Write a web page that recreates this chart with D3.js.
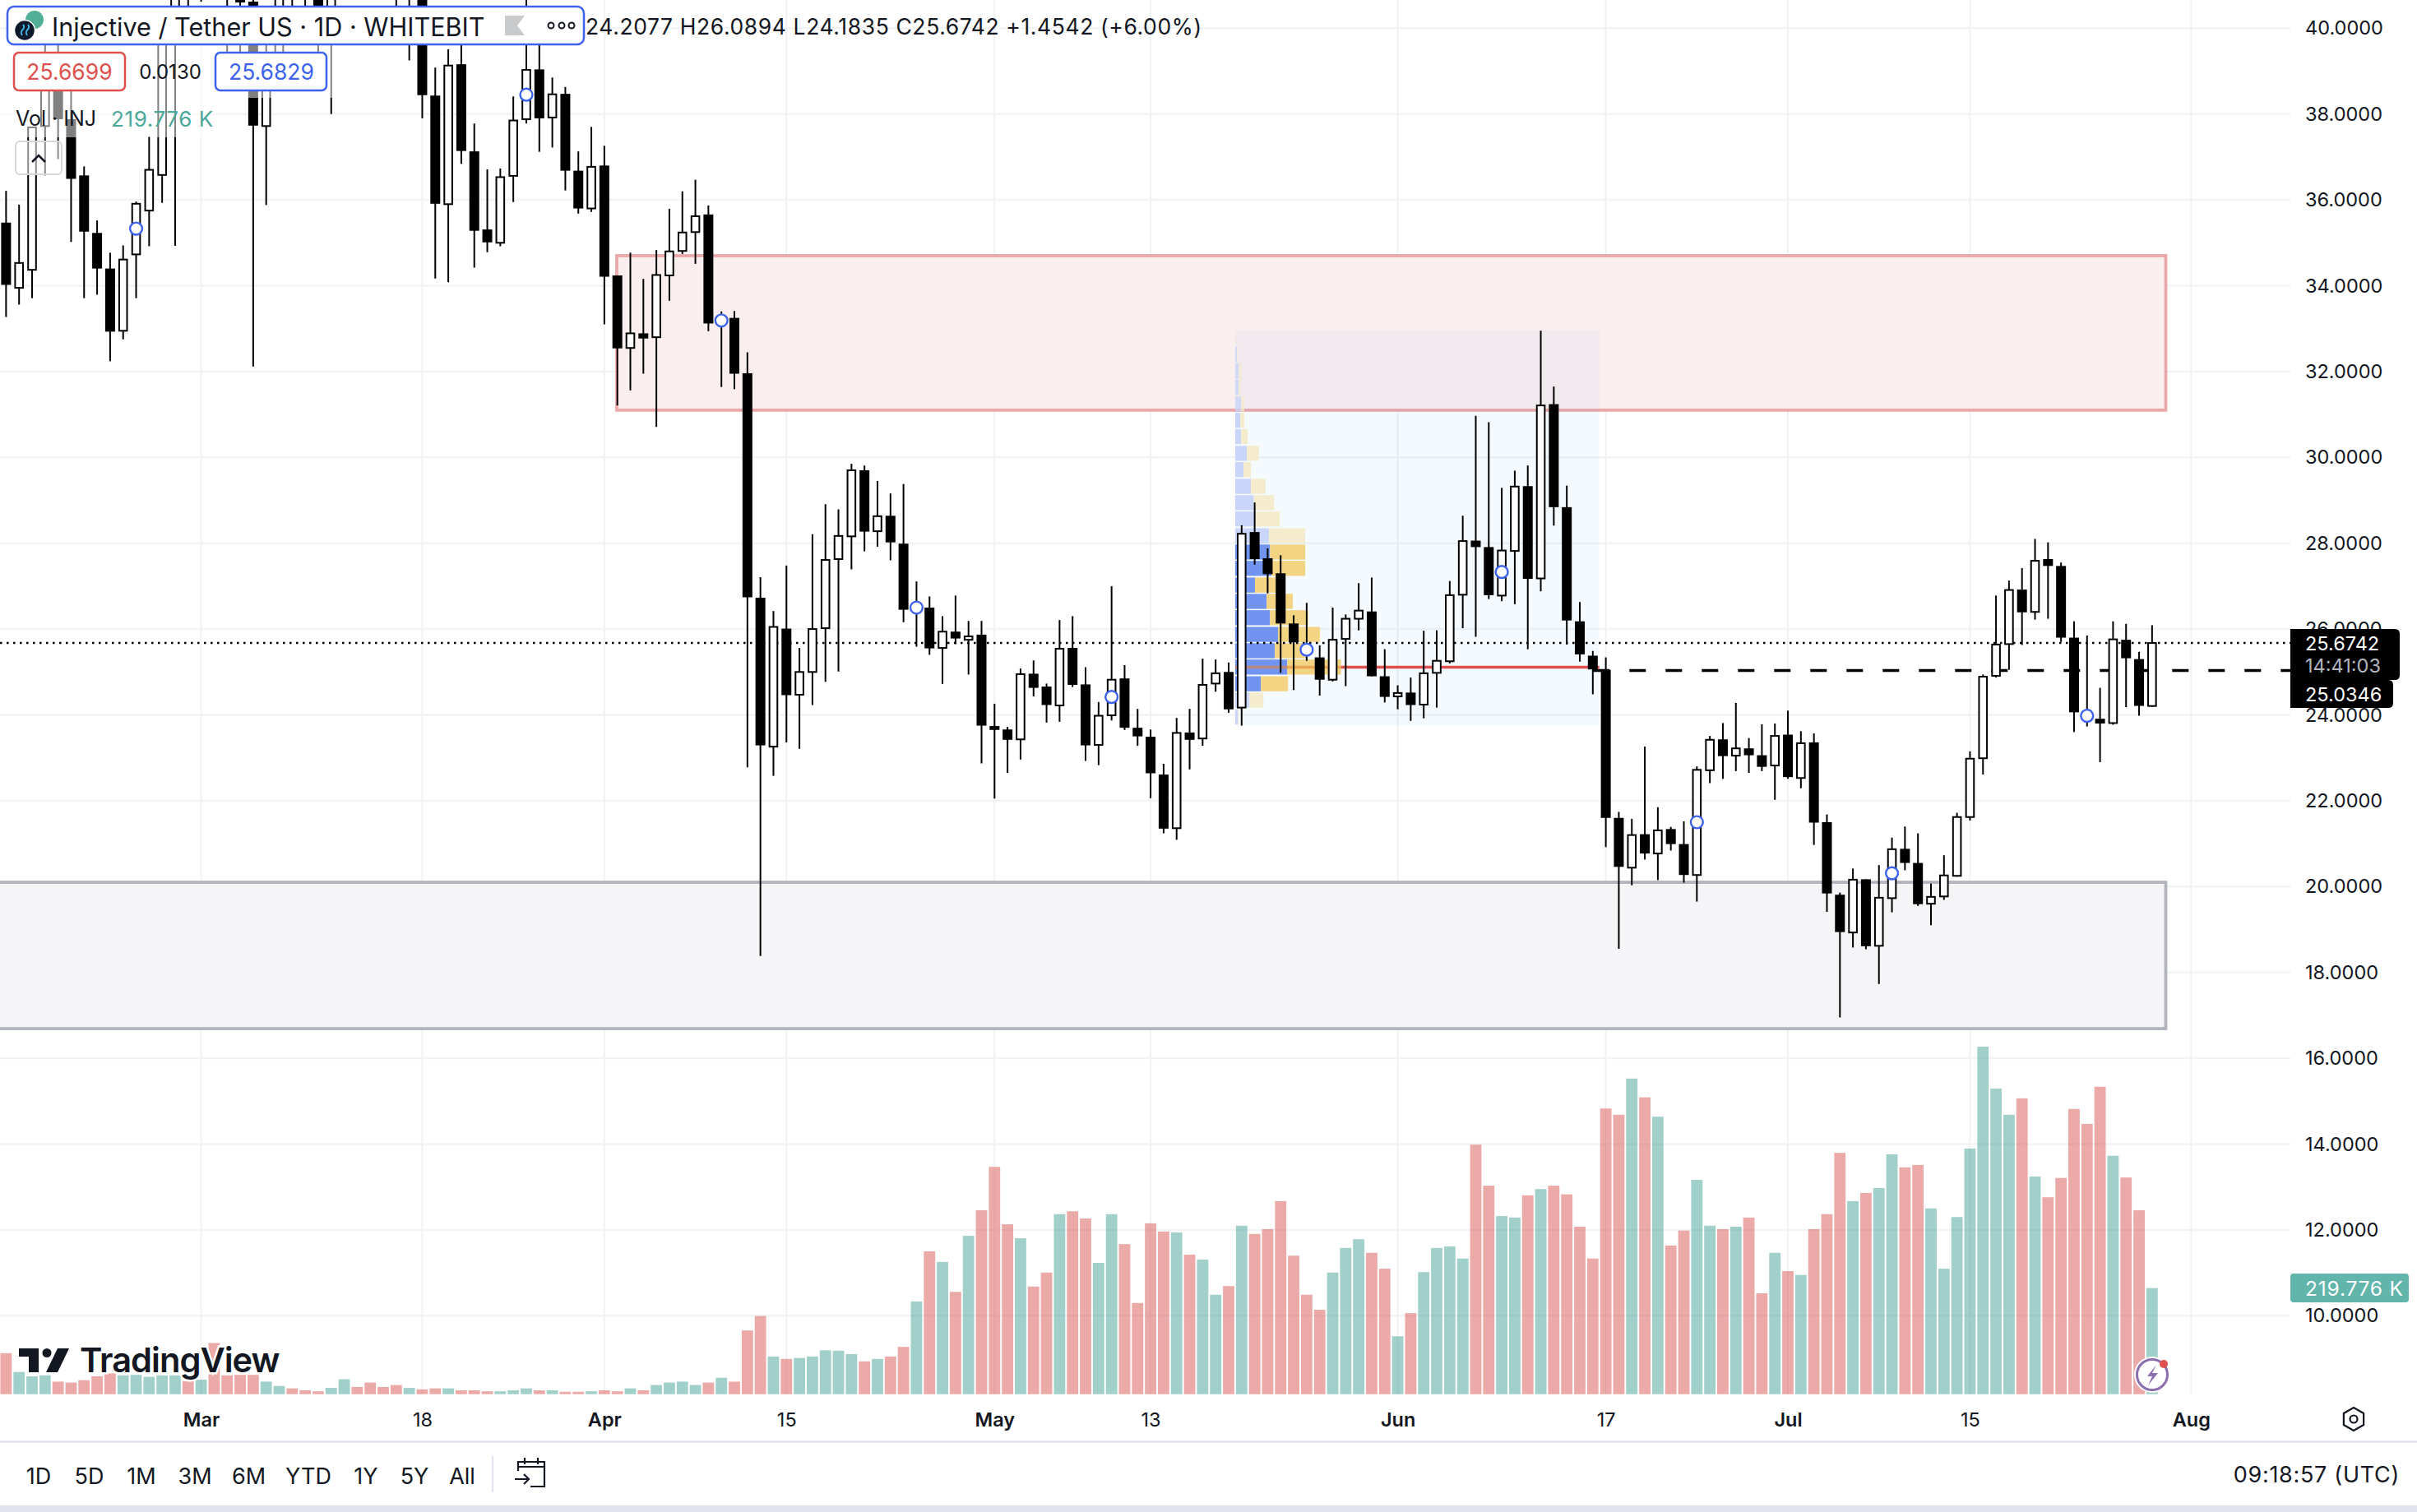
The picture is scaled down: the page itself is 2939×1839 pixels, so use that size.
<!DOCTYPE html>
<html><head><meta charset="utf-8">
<script src="https://cdnjs.cloudflare.com/ajax/libs/d3/7.8.5/d3.min.js"></script>
<style>html,body{margin:0;padding:0;background:#fff}svg{display:block}text{font-family:Inter,"Liberation Sans",sans-serif;fill:#131722}</style>
</head><body><svg id="c" width="2939" height="1839"></svg>
<script>
// day numbers count from 1 March; first candle is day -15
const firstDay=-15;
const open=[35.47,33.95,34.37,37.72,38.74,37.88,36.57,35.23,34.40,32.95,
34.73,35.75,36.58,40.02,42,42,45,42,41,40.62,
37.72,38.74,42,43,42,40.0,42,43,43,42,
43,42,41,38.43,35.9,39.16,37.13,35.31,35.0,36.56,
37.88,39.04,37.92,38.47,36.68,35.8,36.8,34.24,32.55,32.89,
32.8,34.24,34.81,35.25,35.66,33.15,33.25,31.96,26.73,23.26,
26.01,24.47,25.0,26.02,27.63,28.16,29.7,28.28,28.64,27.99,
26.42,26.5,25.56,25.94,25.75,25.87,23.74,23.66,23.43,24.96,
24.66,24.22,25.56,24.71,23.3,23.99,24.85,23.7,23.49,22.61,
21.36,23.59,23.45,24.73,25.0,24.17,28.26,27.65,27.3,26.13,
25.6,25.34,24.82,25.77,26.24,26.41,24.9,24.43,24.52,24.24,
24.98,25.25,26.8,28.06,27.91,26.78,27.82,29.33,27.18,31.24,
28.84,26.18,25.38,25.05,21.6,20.44,21.22,20.77,21.34,20.99,
20.27,22.71,23.43,23.05,23.22,23.06,22.82,23.54,22.53,23.36,
21.5,19.81,18.93,20.17,18.62,19.73,20.88,20.55,19.6,19.77,
20.25,21.62,22.99,24.91,25.65,26.92,26.4,27.63,27.47,25.8,
24.06,23.91,23.81,25.75,25.3,24.2077];
const close=[34.02,34.53,37.69,38.74,37.88,36.49,35.26,34.40,32.93,34.61,
35.91,36.70,40.0,41,41,43,44,41,40.6,37.73,
38.74,41,41,42,40.2,41,43,42,42,41,
42,43,38.44,35.91,39.13,37.14,35.28,35.01,36.53,37.85,
39.03,37.9,38.46,36.68,35.8,36.77,34.21,32.54,32.89,32.77,
34.25,34.8,35.24,35.62,33.12,33.25,31.95,26.74,23.29,26.05,
24.46,25.0,26.0,27.61,28.17,29.7,28.27,28.63,28.02,26.45,
26.59,25.55,25.94,25.78,25.83,23.75,23.65,23.42,24.95,24.63,
24.23,25.54,24.7,23.29,23.98,24.82,23.7,23.5,22.64,21.35,
23.58,23.42,24.7,24.97,24.13,28.22,27.63,27.28,26.13,25.69,
25.42,24.82,25.75,26.24,26.43,24.9,24.42,24.51,24.23,24.97,
25.26,26.79,28.05,27.91,26.79,27.83,29.32,27.17,31.21,28.84,
26.2,25.41,25.06,21.6,20.46,21.2,20.77,21.31,20.99,20.27,
22.72,23.42,23.04,23.22,23.06,22.79,23.51,22.55,23.34,21.49,
19.84,18.94,20.16,18.61,19.74,20.87,20.55,19.59,19.76,20.26,
21.62,22.98,24.89,25.64,26.91,26.39,27.59,27.47,25.8,24.06,
23.92,23.8,25.76,25.32,24.21,25.6742];
const high=[36.21,35.89,37.7,40.27,40.27,38.55,36.78,35.52,34.77,34.94,
35.96,37.48,40.2,41.2,43,44,46,43,41.5,41,
40,41.5,43,43,43,42,44,44,44,43,
44,44,41.5,39.08,39.51,40.0,37.78,36.71,36.73,38.41,
41,40.0,38.85,38.63,37.13,37.7,37.26,34.24,34.77,34.16,
34.83,35.79,36.2,36.47,35.87,33.4,33.41,32.45,27.21,26.42,
27.48,25.56,28.21,28.91,28.79,29.85,29.81,29.45,29.16,29.38,
27.11,26.76,26.3,26.78,26.19,26.19,24.26,23.72,25.08,25.27,
24.73,26.21,26.3,25.11,24.3,27.0,25.16,24.14,23.66,22.86,
23.93,24.14,25.31,25.29,25.22,28.42,28.95,27.88,27.72,26.32,
26.61,25.62,26.5,26.34,27.07,27.2,25.53,24.69,24.87,25.96,
25.97,27.12,28.64,30.97,30.82,29.29,29.69,29.81,32.95,31.65,
29.34,26.63,25.49,25.34,21.74,21.58,23.26,21.85,21.39,21.52,
22.8,23.51,23.81,24.28,23.46,23.78,23.8,24.1,23.62,23.57,
21.68,19.86,20.42,20.17,20.5,21.14,21.4,21.24,20.07,20.73,
21.72,23.15,24.94,26.78,27.13,27.42,28.1,28.02,27.55,26.18,
25.85,24.63,26.18,26.12,25.47,26.0894];
const low=[33.27,33.56,33.71,36.57,36.95,35.02,33.71,33.79,32.24,32.75,
33.71,34.92,35.93,34.93,40.0,40.62,41,38.7,38.74,32.12,
35.88,38.74,40,40.2,38.74,38.0,41,41,41,40.9,
40.0,39.25,37.9,34.17,34.08,36.84,34.42,34.78,34.92,35.95,
37.78,37.12,37.22,36.22,35.68,35.72,33.1,31.21,31.56,31.95,
30.71,33.65,34.74,34.51,32.94,31.64,31.59,22.78,18.38,22.58,
23.36,23.21,24.23,24.77,25.01,27.39,27.81,27.92,27.6,26.16,
25.59,25.4,24.72,25.65,24.94,22.87,22.05,22.65,22.96,24.43,
23.82,23.84,24.65,22.93,22.83,23.87,23.65,23.28,22.06,21.24,
21.09,22.73,23.28,24.54,24.05,23.75,27.5,26.83,24.98,24.58,
25.26,24.45,24.78,24.67,25.97,24.9,24.29,24.13,23.86,23.92,
24.17,25.2,26.02,25.82,26.7,26.65,26.58,25.53,26.88,28.41,
25.64,25.24,24.48,20.92,18.55,20.03,20.63,20.15,20.84,20.09,
19.65,22.41,22.51,22.69,22.65,22.69,22.02,22.51,22.29,20.97,
19.41,16.95,18.58,18.54,17.73,19.4,20.38,19.55,19.1,19.69,
20.23,21.54,22.61,24.87,25.05,25.63,26.22,26.24,25.7,23.6,
23.73,22.9,23.77,24.18,23.98,24.1835];
const volume=[85,46,37,39,26,24,29,37,43,39,40,36,39,39,27,30,106,
39,40,40,26,17,12,8,6,13,31,15,24,15,19,13,10,12,12,8,8,6,6,8,12,8,8,5,5,6,8,6,12,8,19,24,26,19,24,34,26,132,162,78,73,75,78,
91,90,83,68,73,78,98,192,296,274,212,328,381,471,352,323,223,252,373,379,364,272,373,311,189,354,337,335,289,279,206,224,349,332,342,400,287,206,175,252,303,321,293,260,120,168,253,303,306,281,
517,432,369,366,412,425,432,414,347,281,592,579,654,615,575,308,339,444,349,342,347,366,209,293,255,247,342,373,500,400,417,427,497,470,475,385,260,367,509,720,633,579,613,451,408,448,591,560,637,494,449,381,219.776];
const priceTicks=[40,38,36,34,32,30,28,26,24,22,20,18,16,14,12,10];
const timeTickDays=[0,17,31,45,61,73,92,108,122,136,153];
const timeTickLabels=["Mar","18","Apr","15","May","13","Jun","17","Jul","15","Aug"];
const rangeLabels=["1D","5D","1M","3M","6M","YTD","1Y","5Y","All"];
const markerDays=[-5,25,40,55,70,85,100,115,130,145];
const markerPrices=[35.33,38.45,33.19,26.5,24.42,25.52,27.33,21.5,20.31,23.98];
// volume profile rows (top price of each row, up and down volume)
const vpRowTop=[32.57,32.19,31.81,31.42,31.04,30.66,30.27,29.89,29.5,29.12,28.74,28.35,27.97,27.59,27.2,26.82,26.44,26.05,25.67,25.29,24.9,24.52,24.13];
const vpUp=[5,10,10,16,14,16,32,23,43,51,56,92,95,99,54,86,95,117,108,142,70,39,8];
const vpDown=[2,7,5,9,11,18,33,20,40,55,65,99,96,92,58,71,104,114,86,147,74,38,2];
const vpValueArea=[12,20];
const redZone=[34.70,31.10], greyZone=[20.10,16.69];
const vpRange=[32.96,23.75], vpDays=[79.5,107.5], pocPrice=25.11;
const lastPrice=25.6742, dashPrice=25.0346;

const svg=d3.select("#c");
const W=2939,paneR=2785,baseY=1695.7;
const x=d3.scaleLinear().domain([0,153]).range([244.6,2664.3]);
const y=d3.scaleLinear().domain([28,16]).range([660.7,1287.1]);
const vY=d3.scaleLinear().domain([0,1000]).range([baseY,baseY-587]);
const vpW=d3.scaleLinear().domain([0,100]).range([0,44.6]);
const candles=open.map((o,i)=>({day:firstDay+i,o,c:close[i],h:high[i],l:low[i],v:volume[i],up:close[i]>=o}));

// grid
const grid=svg.append("g");
grid.selectAll(".h").data(priceTicks).join("line").attr("x1",0).attr("x2",paneR).attr("y1",y).attr("y2",y).attr("stroke","#f2f3f5").attr("stroke-width",2.5);
grid.selectAll(".v").data(timeTickDays).join("line").attr("x1",x).attr("x2",x).attr("y1",0).attr("y2",baseY).attr("stroke","#f0f1f3").attr("stroke-width",2);

// zones
const zr=2633.5;
svg.append("rect").attr("x",750).attr("y",y(redZone[0])).attr("width",zr-750).attr("height",y(redZone[1])-y(redZone[0])).attr("fill","#fbeeee").attr("stroke","#eba8a8").attr("stroke-width",3.8);
svg.append("rect").attr("x",-10).attr("y",y(greyZone[0])).attr("width",zr+10).attr("height",y(greyZone[1])-y(greyZone[0])).attr("fill","#f5f5f8").attr("stroke","#b2b5be").attr("stroke-width",3.8);

// volume
svg.append("g").selectAll("rect").data(candles).join("rect")
 .attr("x",d=>x(d.day)-6.9).attr("width",13.8).attr("y",d=>vY(d.v)).attr("height",d=>baseY-vY(d.v))
 .attr("fill",d=>d.up?"rgb(67,160,150)":"rgb(215,85,81)").attr("fill-opacity",.5);

// volume profile
const vpX=x(vpDays[0]);
svg.append("rect").attr("x",vpX).attr("y",y(vpRange[0])).attr("width",x(vpDays[1])-vpX).attr("height",y(vpRange[1])-y(vpRange[0])).attr("fill","rgb(41,150,243)").attr("fill-opacity",.05);
svg.append("line").attr("x1",vpX).attr("x2",x(vpDays[1])).attr("y1",y(pocPrice)).attr("y2",y(pocPrice)).attr("stroke","#de5050").attr("stroke-width",3.6);
const inVA=i=>i>=vpValueArea[0]&&i<=vpValueArea[1];
const rows=svg.append("g").selectAll("g").data(vpRowTop).join("g");
rows.append("rect").attr("x",vpX).attr("y",d=>y(d)).attr("height",18.3).attr("width",(d,i)=>vpW(vpUp[i])).attr("fill",(d,i)=>inVA(i)?"#6a8ef0":"#c6d4fa").attr("fill-opacity",(d,i)=>(i<4?.75:.95));
rows.append("rect").attr("x",(d,i)=>vpX+vpW(vpUp[i])).attr("y",d=>y(d)).attr("height",18.3).attr("width",(d,i)=>vpW(vpDown[i])).attr("fill",(d,i)=>inVA(i)?"#f2d27c":"#f3ebc9").attr("fill-opacity",(d,i)=>(i<4?.75:.95));
rows.filter((d,i)=>i===19).append("line").attr("x1",vpX).attr("x2",vpX+vpW(vpUp[19]+vpDown[19])).attr("y1",y(pocPrice)).attr("y2",y(pocPrice)).attr("stroke","#e58a3c").attr("stroke-width",3.6).attr("stroke-opacity",.6);

// price lines
svg.append("line").attr("x1",0).attr("x2",paneR).attr("y1",y(lastPrice)).attr("y2",y(lastPrice)).attr("stroke","#000").attr("stroke-width",2.5).attr("stroke-dasharray","2.5 5.5");
svg.append("line").attr("x1",x(107.03)).attr("x2",paneR).attr("y1",y(dashPrice)).attr("y2",y(dashPrice)).attr("stroke","#000").attr("stroke-width",3.6).attr("stroke-dasharray","20 24");

// candles
const cg=svg.append("g").selectAll("g").data(candles).join("g");
cg.append("line").attr("x1",d=>x(d.day)).attr("x2",d=>x(d.day)).attr("y1",d=>y(d.h)).attr("y2",d=>y(d.l)).attr("stroke","#000").attr("stroke-width",2);
cg.append("rect")
 .attr("x",d=>x(d.day)-(d.up?4.8:6)).attr("width",d=>d.up?9.6:12)
 .attr("y",d=>y(Math.max(d.o,d.c))).attr("height",d=>Math.max(Math.abs(y(d.o)-y(d.c)),1.5))
 .attr("fill",d=>d.up?"#fff":"#000").attr("stroke",d=>d.up?"#000":"none").attr("stroke-width",2);

// bar markers
svg.append("g").selectAll("circle").data(markerDays).join("circle").attr("cx",d=>x(d)).attr("cy",(d,i)=>y(markerPrices[i])).attr("r",7.4).attr("fill","#fff").attr("stroke","#3d62ee").attr("stroke-width",2.4);

// price axis
const yAxis=svg.append("g").attr("transform",`translate(${paneR},0)`).call(d3.axisRight(y).tickValues(priceTicks).tickFormat(d3.format(".4f")).tickSize(0).tickPadding(18));
yAxis.select(".domain").remove();
yAxis.selectAll("text").attr("font-size",23.5).style("font-family","Inter").style("fill","#131722");

// time axis
const xAxis=svg.append("g").attr("transform",`translate(0,${baseY})`).call(d3.axisBottom(x).tickValues(timeTickDays).tickFormat(d=>timeTickLabels[timeTickDays.indexOf(d)]).tickSize(0).tickPadding(23));
xAxis.select(".domain").remove();
xAxis.selectAll("text").attr("font-size",23.5).style("font-family","Inter").style("fill","#131722").attr("font-weight",d=>isNaN(+timeTickLabels[timeTickDays.indexOf(d)])?600:400);

// price labels
function tag(x0,y0,w,h,fill,r){svg.append("path").attr("d",`M${x0},${y0}H${x0+w-r}Q${x0+w},${y0} ${x0+w},${y0+r}V${y0+h-r}Q${x0+w},${y0+h} ${x0+w-r},${y0+h}H${x0}Z`).attr("fill",fill);}
function txt(s,px,py,fs,col,anchor,weight,ls){return svg.append("text").text(s).attr("x",px).attr("y",py).attr("font-size",fs).attr("dominant-baseline","central").attr("text-anchor",anchor||"start").attr("font-weight",weight||400).attr("letter-spacing",ls||0).style("fill",col||"#131722");}
tag(paneR,765,133,62,"#000",6);
tag(paneR,827,125,34,"#000",6);
txt(d3.format(".4f")(lastPrice),2803,782,23.5,"#fff");
txt("14:41:03",2803,809,23.5,"#b2b5be");
txt(d3.format(".4f")(dashPrice),2803,844,23.5,"#fff");
svg.append("rect").attr("x",paneR).attr("y",1549).attr("width",144).attr("height",35).attr("rx",4).attr("fill","#62b5ab");
txt("219.776 K",2803,1566.5,24.5,"#fff",null,null,.8);

// legend
svg.append("rect").attr("x",0).attr("y",55).attr("width",415).attr("height",64).attr("fill","#fff").attr("fill-opacity",.5);
svg.append("rect").attr("x",0).attr("y",119).attr("width",262).attr("height",48).attr("fill","#fff").attr("fill-opacity",.5);
svg.append("rect").attr("x",9).attr("y",8).attr("width",701).attr("height",46).attr("rx",8).attr("fill","#fff").attr("stroke","#3d62ee").attr("stroke-width",2.5);
svg.append("circle").attr("cx",42).attr("cy",24).attr("r",11).attr("fill","#50af95");
svg.append("circle").attr("cx",30).attr("cy",37).attr("r",12.5).attr("fill","#0e1a2b").attr("stroke","#fff").attr("stroke-width",1.5);
svg.append("path").attr("d","M27,43C22,36 33,36 28,30M33,43C28,36 39,36 34,30").attr("fill","none").attr("stroke","#3fb6e8").attr("stroke-width",2);
txt("Injective / Tether US · 1D · WHITEBIT",63,32,30.6,"#131722");
svg.append("path").attr("d","M614,19H638L629,31L638,43H614Z").attr("fill","#c9cacc");
[670,683,695].forEach(c=>svg.append("circle").attr("cx",c).attr("cy",31).attr("r",3.5).attr("fill","none").attr("stroke","#131722").attr("stroke-width",2));
txt("24.2077  H26.0894  L24.1835  C25.6742  +1.4542 (+6.00%)",712,32,26.5,"#131722",null,null,.6);
svg.append("rect").attr("x",17).attr("y",64).attr("width",135).attr("height",46).attr("rx",6).attr("fill","#fff").attr("stroke","#e0504f").attr("stroke-width",2.5);
txt("25.6699",84.5,87,26.5,"#e0504f","middle");
txt("0.0130",207,87,24,"#131722","middle");
svg.append("rect").attr("x",262).attr("y",64).attr("width",135).attr("height",46).attr("rx",6).attr("fill","#fff").attr("stroke","#3d62ee").attr("stroke-width",2.5);
txt("25.6829",330,87,26.5,"#3d62ee","middle");
txt("Vol · INJ",19,144,25,"#131722");
txt("219.776 K",135,144,26,"#4ba899",null,null,.6);
svg.append("rect").attr("x",19).attr("y",172).attr("width",56).attr("height",40).attr("rx",5).attr("fill","#fff").attr("fill-opacity",.55).attr("stroke","#d4d6db").attr("stroke-width",1.8);
svg.append("path").attr("d","M39,197L47,189L55,197").attr("fill","none").attr("stroke","#131722").attr("stroke-width",2.5);

// TradingView logo
svg.append("path").attr("d","M23,1640H47V1669H35V1650H23ZM70,1640H84L70,1669H56Z").attr("fill","#131722");
svg.append("circle").attr("cx",57).attr("cy",1645.5).attr("r",5.5).attr("fill","#131722");
svg.append("text").text("TradingView").attr("x",97).attr("y",1669).attr("font-size",41.6).attr("font-weight",600).attr("letter-spacing",-1).attr("stroke","#fff").attr("stroke-width",5).attr("paint-order","stroke").style("fill","#131722");

// lightning badge
svg.append("circle").attr("cx",2617).attr("cy",1672).attr("r",22).attr("fill","#fff");
svg.append("circle").attr("cx",2617).attr("cy",1672).attr("r",18.5).attr("fill","#fff").attr("stroke","#8c6fae").attr("stroke-width",3);
svg.append("path").attr("d","M2622,1660L2611,1674H2617L2612,1685L2624,1670H2617Z").attr("fill","#8c6fae");
svg.append("circle").attr("cx",2631).attr("cy",1659).attr("r",5).attr("fill","#e0504f");

// gear
const cx=2862,cy=1726;
svg.append("path").attr("d",d3.range(6).map(i=>{const a=Math.PI/6+i*Math.PI/3;return (i?"L":"M")+(cx+14*Math.cos(a))+","+(cy+14*Math.sin(a));}).join("")+"Z").attr("fill","none").attr("stroke","#131722").attr("stroke-width",2.2);
svg.append("circle").attr("cx",cx).attr("cy",cy).attr("r",4.5).attr("fill","none").attr("stroke","#131722").attr("stroke-width",2.2);

// bottom bar
svg.append("line").attr("x1",0).attr("x2",W).attr("y1",1753.5).attr("y2",1753.5).attr("stroke","#e0e3eb").attr("stroke-width",2.5);
svg.append("rect").attr("x",0).attr("y",1831).attr("width",W).attr("height",8).attr("fill","#e0e3eb");
const rangeX=[47,108.5,172,237,302.5,375,445,504,562];
svg.append("g").selectAll("text").data(rangeLabels).join("text").text(d=>d).attr("x",(d,i)=>rangeX[i]).attr("y",1795).attr("font-size",27).attr("text-anchor","middle").attr("dominant-baseline","central");
svg.append("line").attr("x1",599).attr("x2",599).attr("y1",1771).attr("y2",1815).attr("stroke","#e0e3eb").attr("stroke-width",2);
svg.append("path").attr("d","M630,1789V1778H662V1808H645M630,1784H662M638,1773V1781M654,1773V1781M626,1799H643M637,1793L643,1799L637,1805").attr("fill","none").attr("stroke","#131722").attr("stroke-width",2.2);
txt("09:18:57 (UTC)",2918,1793,27,"#131722","end",null,.7);
</script></body></html>
